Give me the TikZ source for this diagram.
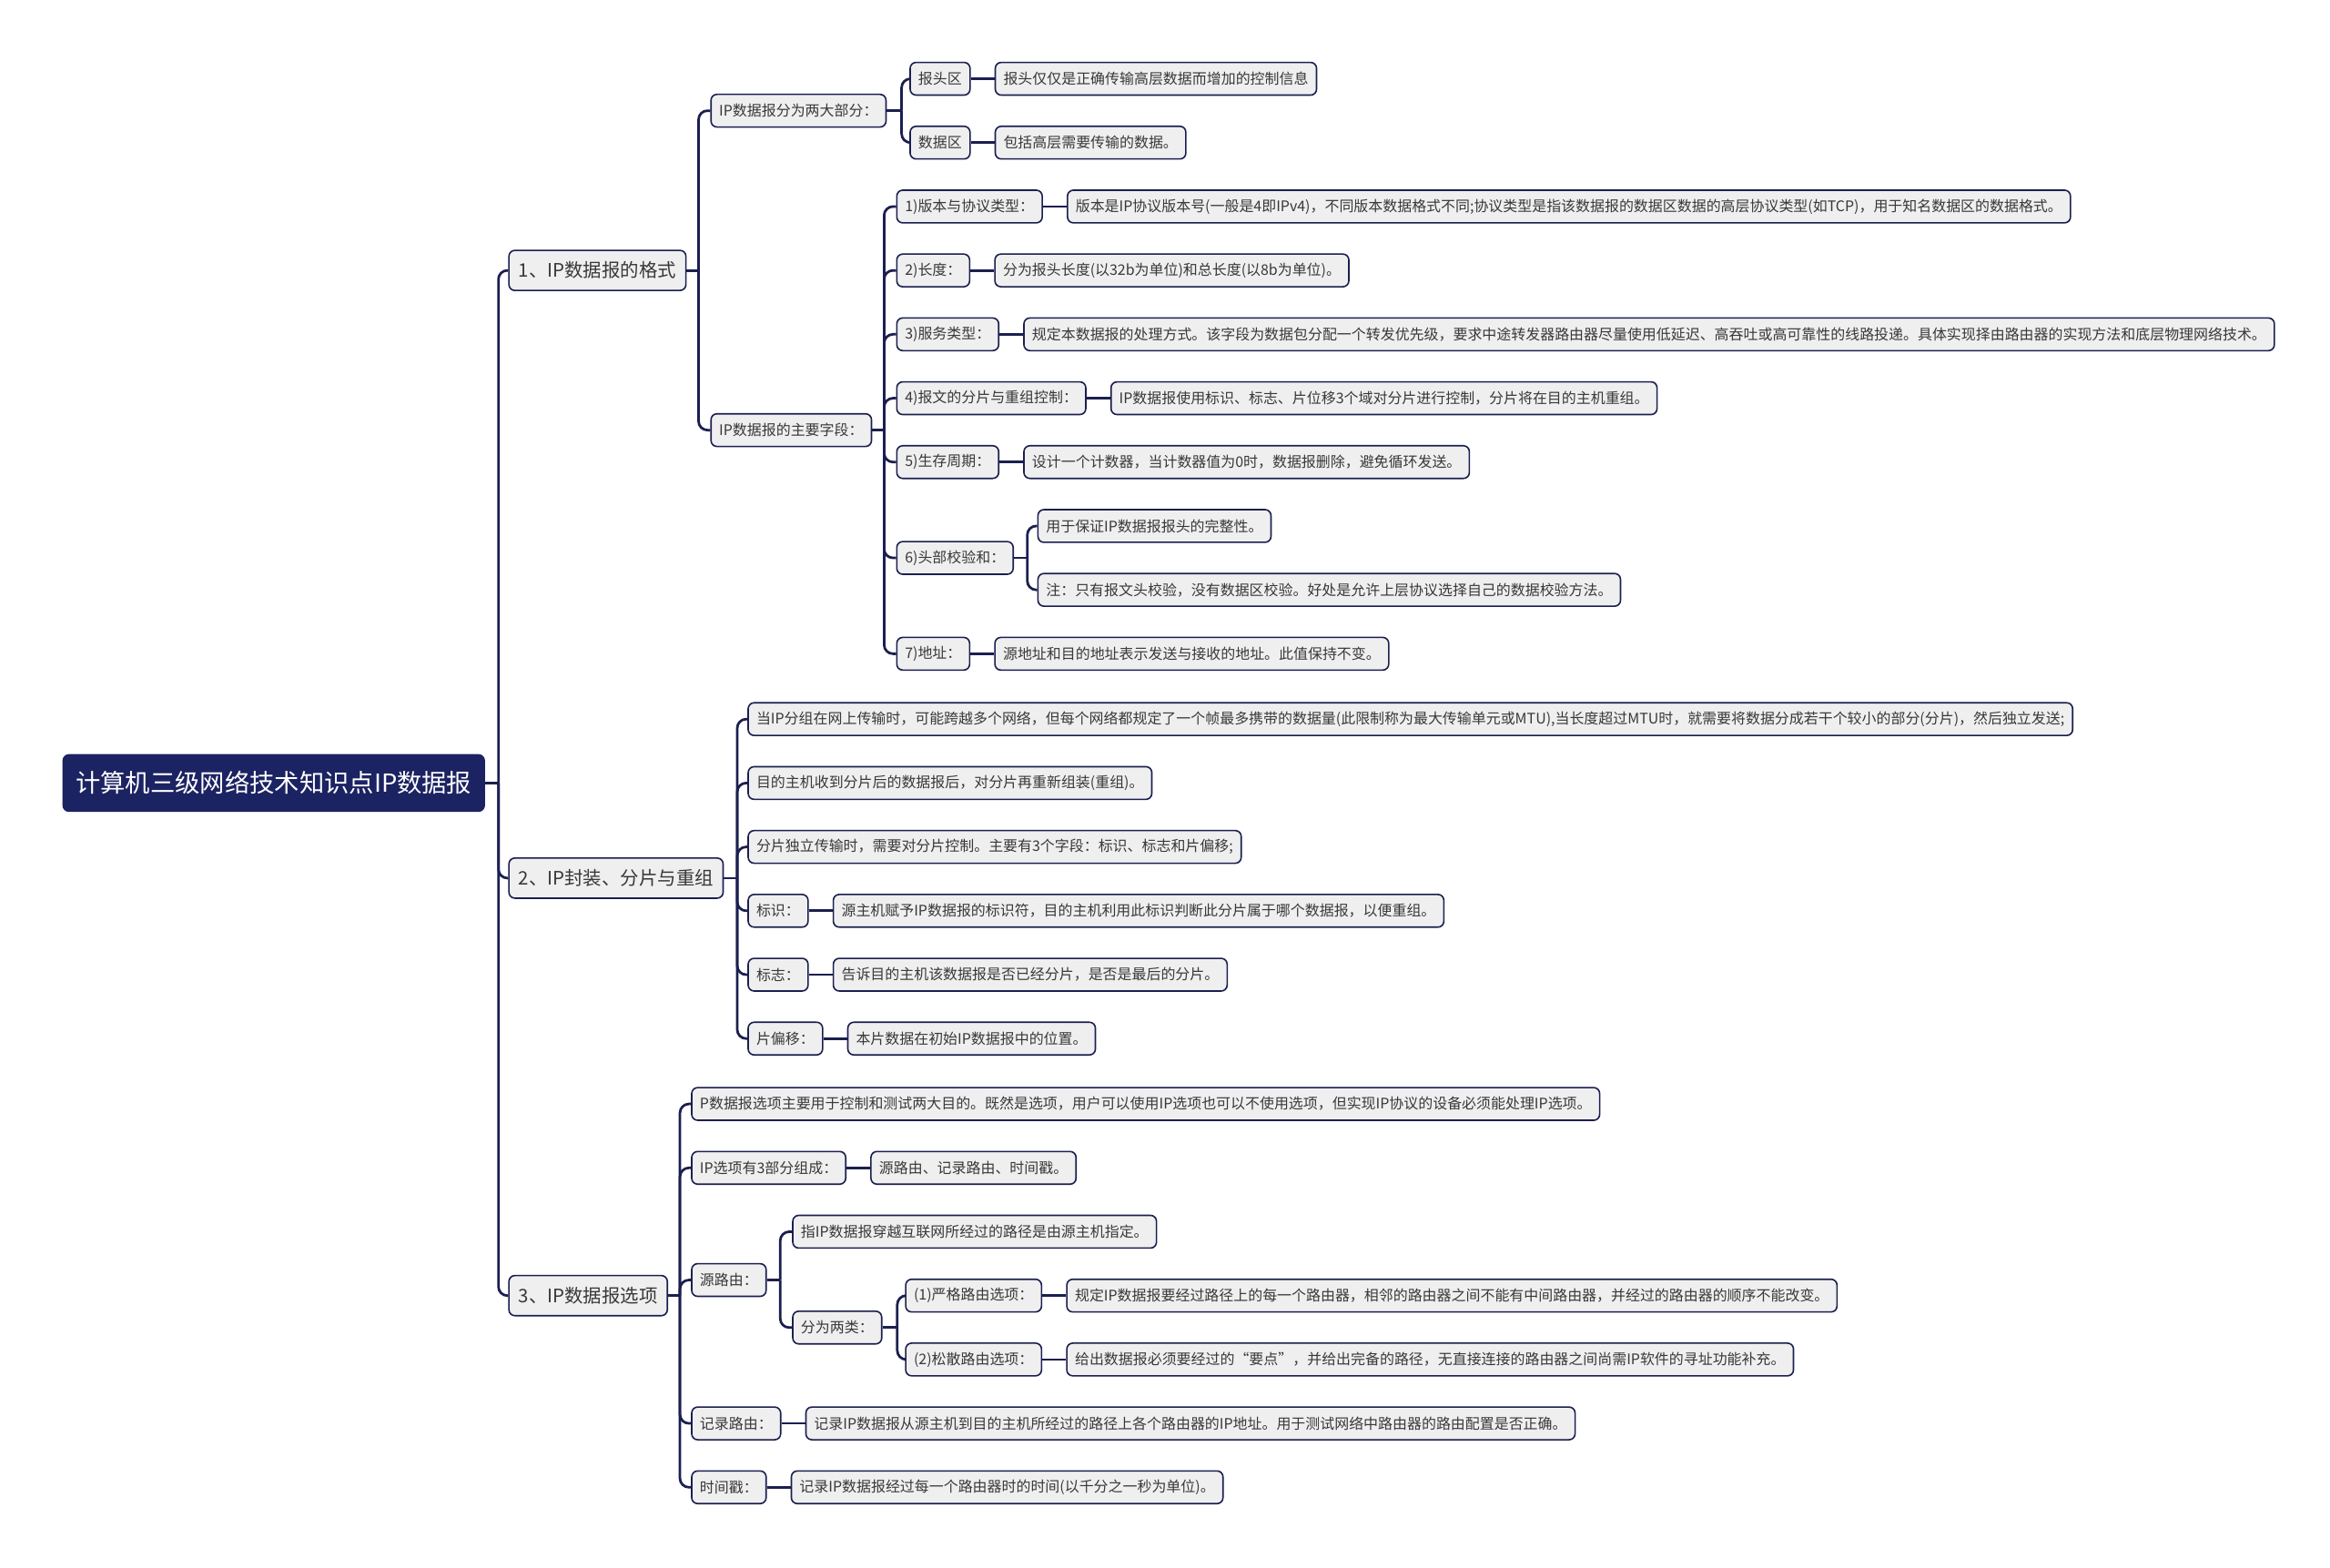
\documentclass[tikz,border=0pt]{standalone}
\usepackage{fontspec}
\setmainfont{Noto Sans CJK SC}
\usetikzlibrary{positioning}

\definecolor{navy}{HTML}{1C2362}
\definecolor{wire}{HTML}{1B1F50}
\definecolor{boxfill}{HTML}{EFEFEF}
\definecolor{ink}{HTML}{383838}

\tikzset{
  leaf/.style={draw=wire, fill=boxfill, line width=1.4pt, rounded corners=2mm,
    text=ink, anchor=west, inner xsep=2.75mm, inner ysep=0pt, minimum height=11mm,
    font=\fontsize{13.9}{16}\selectfont},
  secbox/.style={leaf, minimum height=13.5mm, inner xsep=3.25mm,
    font=\fontsize{17.8}{20}\selectfont},
  rootbox/.style={leaf, fill=navy, draw=navy, text=white, minimum height=19mm,
    inner xsep=4.25mm, font=\fontsize{23.8}{26}\selectfont},
  link/.style={draw=wire, line width=2.4pt},
  tail/.style={right=8mm of #1},
}

\begin{document}
\begin{tikzpicture}[x=0.5mm, y=-0.5mm]

% Canvas
\fill[white] (0,0) rectangle (1568,1055);
\useasboundingbox (0,0) rectangle (1568,1055);

% Root and sections
\node[rootbox] (root) at (42,527) {计算机三级网络技术知识点IP数据报};
\node[secbox] (fmt) at (342,182) {1、IP数据报的格式};
\node[secbox] (enc) at (342,591) {2、IP封装、分片与重组};
\node[secbox] (opt) at (342,872) {3、IP数据报选项};

% Section 1: format
\node[leaf] (parts) at (478,74.5) {IP数据报分为两大部分：};
\node[leaf] (head) at (612,53) {报头区};
\node[leaf, tail=head] (headd) {报头仅仅是正确传输高层数据而增加的控制信息};
\node[leaf] (data) at (612,96) {数据区};
\node[leaf, tail=data] (datad) {包括高层需要传输的数据。};

\node[leaf] (fields) at (478,289.5) {IP数据报的主要字段：};
\node[leaf] (f1) at (603,139) {1)版本与协议类型：};
\node[leaf, tail=f1] (f1d) {版本是IP协议版本号(一般是4即IPv4)，不同版本数据格式不同;协议类型是指该数据报的数据区数据的高层协议类型(如TCP)，用于知名数据区的数据格式。};
\node[leaf] (f2) at (603,182) {2)长度：};
\node[leaf, tail=f2] (f2d) {分为报头长度(以32b为单位)和总长度(以8b为单位)。};
\node[leaf] (f3) at (603,225) {3)服务类型：};
\node[leaf, tail=f3] (f3d) {规定本数据报的处理方式。该字段为数据包分配一个转发优先级，要求中途转发器路由器尽量使用低延迟、高吞吐或高可靠性的线路投递。具体实现择由路由器的实现方法和底层物理网络技术。};
\node[leaf] (f4) at (603,268) {4)报文的分片与重组控制：};
\node[leaf, tail=f4] (f4d) {IP数据报使用标识、标志、片位移3个域对分片进行控制，分片将在目的主机重组。};
\node[leaf] (f5) at (603,311) {5)生存周期：};
\node[leaf, tail=f5] (f5d) {设计一个计数器，当计数器值为0时，数据报删除，避免循环发送。};
\node[leaf] (f6) at (603,375.5) {6)头部校验和：};
\node[leaf] (f6a) at (698,354) {用于保证IP数据报报头的完整性。};
\node[leaf] (f6b) at (698,397) {注：只有报文头校验，没有数据区校验。好处是允许上层协议选择自己的数据校验方法。};
\node[leaf] (f7) at (603,440) {7)地址：};
\node[leaf, tail=f7] (f7d) {源地址和目的地址表示发送与接收的地址。此值保持不变。};

% Section 2: fragmentation
\node[leaf] (e1) at (503,484) {当IP分组在网上传输时，可能跨越多个网络，但每个网络都规定了一个帧最多携带的数据量(此限制称为最大传输单元或MTU),当长度超过MTU时，就需要将数据分成若干个较小的部分(分片)，然后独立发送;};
\node[leaf] (e2) at (503,527) {目的主机收到分片后的数据报后，对分片再重新组装(重组)。};
\node[leaf] (e3) at (503,570) {分片独立传输时，需要对分片控制。主要有3个字段：标识、标志和片偏移;};
\node[leaf] (e4) at (503,613) {标识：};
\node[leaf, tail=e4] (e4d) {源主机赋予IP数据报的标识符，目的主机利用此标识判断此分片属于哪个数据报，以便重组。};
\node[leaf] (e5) at (503,656) {标志：};
\node[leaf, tail=e5] (e5d) {告诉目的主机该数据报是否已经分片，是否是最后的分片。};
\node[leaf] (e6) at (503,699) {片偏移：};
\node[leaf, tail=e6] (e6d) {本片数据在初始IP数据报中的位置。};

% Section 3: options
\node[leaf] (o1) at (465,743) {P数据报选项主要用于控制和测试两大目的。既然是选项，用户可以使用IP选项也可以不使用选项，但实现IP协议的设备必须能处理IP选项。};
\node[leaf] (o2) at (465,786) {IP选项有3部分组成：};
\node[leaf, tail=o2] (o2d) {源路由、记录路由、时间戳。};
\node[leaf] (o3) at (465,861.5) {源路由：};
\node[leaf] (src1) at (533,829) {指IP数据报穿越互联网所经过的路径是由源主机指定。};
\node[leaf] (src2) at (533,893.5) {分为两类：};
\node[leaf] (strict) at (609,872) {(1)严格路由选项：};
\node[leaf, tail=strict] (strictd) {规定IP数据报要经过路径上的每一个路由器，相邻的路由器之间不能有中间路由器，并经过的路由器的顺序不能改变。};
\node[leaf] (loose) at (609,915) {(2)松散路由选项：};
\node[leaf, tail=loose] (loosed) {给出数据报必须要经过的“要点”，并给出完备的路径，无直接连接的路由器之间尚需IP软件的寻址功能补充。};
\node[leaf] (o4) at (465,958) {记录路由：};
\node[leaf, tail=o4] (o4d) {记录IP数据报从源主机到目的主机所经过的路径上各个路由器的IP地址。用于测试网络中路由器的路由配置是否正确。};
\node[leaf] (o5) at (465,1001) {时间戳：};
\node[leaf, tail=o5] (o5d) {记录IP数据报经过每一个路由器时的时间(以千分之一秒为单位)。};

% Bus connectors: stub to bus, then bend into child
\foreach \p/\c/\d in {root/fmt/9, root/enc/9, root/opt/9,
    fmt/parts/8, fmt/fields/8, parts/head/10, parts/data/10,
    fields/f1/8, fields/f2/8, fields/f3/8, fields/f4/8, fields/f5/8, fields/f6/8, fields/f7/8,
    f6/f6a/9, f6/f6b/9,
    enc/e1/9, enc/e2/9, enc/e3/9, enc/e4/9, enc/e5/9, enc/e6/9,
    opt/o1/8, opt/o2/8, opt/o3/8, opt/o4/8, opt/o5/8,
    o3/src1/9, o3/src2/9, src2/strict/10, src2/loose/10} {
  \draw[link] (\p.east) -- ++(\d,0);
  \draw[link, rounded corners=3mm] (\p.east) ++(\d,0) |- (\c.west);
}

% Straight connectors to details
\foreach \p/\c in {head/headd, data/datad, f1/f1d, f2/f2d, f3/f3d, f4/f4d, f5/f5d, f7/f7d,
    e4/e4d, e5/e5d, e6/e6d, o2/o2d, strict/strictd, loose/loosed, o4/o4d, o5/o5d}
  \draw[link] (\p.east) -- (\c.west);

\end{tikzpicture}
\end{document}
